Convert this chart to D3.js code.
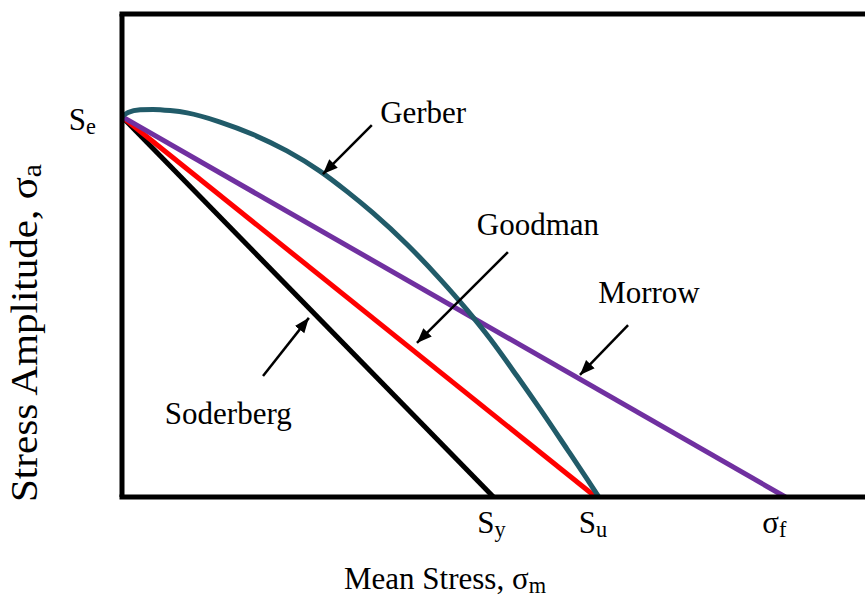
<!DOCTYPE html>
<html>
<head>
<meta charset="utf-8">
<script src="https://cdn.jsdelivr.net/npm/d3@7"></script>
<style>
  html, body { margin: 0; padding: 0; background: #fff; }
  svg { display: block; }
  text { font-family: "Liberation Serif", "Times New Roman", serif; fill: #000; }
</style>
</head>
<body>
<svg id="chart" width="865" height="597"></svg>
<script>
// Mean-stress correction criteria on the Haigh diagram.
// Stress values are in relative units: endurance limit Se = 100.
const enduranceLimit = 100;       // Se on the amplitude axis
const yieldStrength = 98;         // Sy
const ultimateStrength = 125;     // Su
const fractureStrength = 175;     // sigma_f (true fracture strength)

// Straight-line criteria: (mean stress, stress amplitude) end points
const soderberg = [[0, enduranceLimit], [yieldStrength, 0]];
const goodman   = [[0, enduranceLimit], [ultimateStrength, 0]];
const morrow    = [[0, enduranceLimit], [fractureStrength, 0]];

// Gerber curve traced point by point
const gerberMean = [0, 1.6, 4.8, 8.2, 12.7, 17.2, 25.9, 34.6, 43.5, 52.2, 59.4, 66.2, 75.2, 83.9, 91.0, 97.1, 104.2, 110.3, 117.4, 122.7, 125.8];
const gerberAmp  = [100, 101.1, 101.8, 101.9, 101.6, 101.0, 98.6, 95.3, 91.0, 85.7, 80.3, 74.7, 66.4, 57.3, 49.2, 41.6, 31.8, 23.1, 12.6, 4.7, 0];

// Axis marker labels
const xMarkers = [
  { base: "S", sub: "y", value: yieldStrength },
  { base: "S", sub: "u", value: ultimateStrength },
  { base: "σ", sub: "f", value: fractureStrength }
];
const yMarkers = [{ base: "S", sub: "e", value: enduranceLimit }];

// Curve names with their callout arrows (text anchor, arrow tail, arrow tip)
const curveNames = ["Gerber", "Goodman", "Morrow", "Soderberg"];
const callouts = {
  Gerber:    { text: [68.1, 98.3],  tail: [65.9, 97.8],  tip: [53.0, 84.9] },
  Goodman:   { text: [93.6, 68.9],  tail: [101.8, 64.4], tip: [77.8, 40.5] },
  Morrow:    { text: [125.6, 51.0], tail: [133.5, 45.2], tip: [120.8, 32.1] },
  Soderberg: { text: [11.3, 19.2],  tail: [37.2, 31.8],  tip: [49.3, 47.1] }
};

const W = 865, H = 597;
const plot = { left: 122, right: 865, top: 14, bottom: 497 };
const fontSize = 31;

const x = d3.scaleLinear().domain([0, 196]).range([plot.left, plot.right]);
const y = d3.scaleLinear().domain([0, 127]).range([plot.bottom, plot.top]);

const svg = d3.select("#chart");

svg.append("defs").append("marker")
  .attr("id", "head")
  .attr("viewBox", "0 0 10 10")
  .attr("refX", 10).attr("refY", 5)
  .attr("markerWidth", 6).attr("markerHeight", 6)
  .attr("markerUnits", "strokeWidth")
  .attr("orient", "auto")
  .append("path").attr("d", "M0,1 L10,5 L0,9 Z").attr("fill", "#000");

const line = d3.line().x(d => x(d[0])).y(d => y(d[1]));

// Criteria lines
const series = [
  { name: "Soderberg", pts: soderberg, color: "#000000" },
  { name: "Goodman",   pts: goodman,   color: "#ff0000" },
  { name: "Morrow",    pts: morrow,    color: "#7030a0" }
];
svg.append("g").selectAll("path").data(series).join("path")
  .attr("d", d => line(d.pts))
  .attr("fill", "none")
  .attr("stroke", d => d.color)
  .attr("stroke-width", 5);

const gerberPts = gerberMean.map((m, i) => [m, gerberAmp[i]]);
svg.append("path")
  .attr("d", line.curve(d3.curveMonotoneX)(gerberPts))
  .attr("fill", "none")
  .attr("stroke", "#215b69")
  .attr("stroke-width", 5);

// Frame: left, top and bottom edges
const frame = svg.append("g").attr("stroke", "#000").attr("stroke-width", 5).attr("fill", "none");
frame.append("path").attr("d", `M${x(0)},${y(127)} V${y(0)}`);
frame.append("path").attr("d", `M${x(0) - 2.5},${y(127)} H${W}`);
frame.append("path").attr("d", `M${x(0) - 2.5},${y(0)} H${W}`);

// Text with a subscript part
function subText(sel, base, sub, size) {
  sel.append("tspan").text(base);
  sel.append("tspan").attr("font-size", size * 0.72).attr("dy", 4).text(sub);
}

// Marker labels under the mean-stress axis
const xOffsets = [-2, -3, -11];
xMarkers.forEach((m, i) => {
  const t = svg.append("text")
    .attr("x", x(m.value) + xOffsets[i]).attr("y", y(0) + 36)
    .attr("text-anchor", "middle").attr("font-size", fontSize);
  subText(t, m.base, m.sub, fontSize);
});
yMarkers.forEach(m => {
  const t = svg.append("text")
    .attr("x", x(0) - 26).attr("y", y(m.value) + 13)
    .attr("text-anchor", "end").attr("font-size", fontSize);
  subText(t, m.base, m.sub, fontSize);
});

// Curve names and callout arrows
curveNames.forEach(name => {
  const c = callouts[name];
  svg.append("text")
    .attr("x", x(c.text[0])).attr("y", y(c.text[1]))
    .attr("font-size", fontSize).text(name);
  svg.append("line")
    .attr("x1", x(c.tail[0])).attr("y1", y(c.tail[1]))
    .attr("x2", x(c.tip[0])).attr("y2", y(c.tip[1]))
    .attr("stroke", "#000").attr("stroke-width", 2.5)
    .attr("marker-end", "url(#head)");
});

// Axis titles
const xt = svg.append("text")
  .attr("x", 445).attr("y", 589)
  .attr("text-anchor", "middle").attr("font-size", fontSize);
subText(xt, "Mean Stress, σ", "m", fontSize);

const ySize = 38;
const yt = svg.append("text")
  .attr("transform", "translate(37,333) rotate(-90)")
  .attr("text-anchor", "middle").attr("font-size", ySize)
  .attr("textLength", 338).attr("lengthAdjust", "spacingAndGlyphs");
subText(yt, "Stress Amplitude, σ", "a", ySize);
</script>
</body>
</html>
